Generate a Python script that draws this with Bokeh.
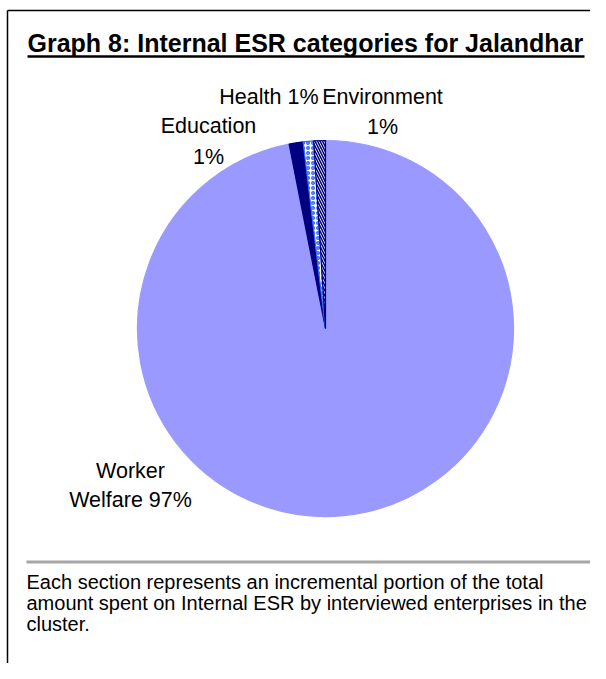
import math
from bokeh.plotting import figure
from bokeh.models import ColumnDataSource, Range1d
from bokeh.core.properties import value
from bokeh.embed import file_html
from bokeh.resources import INLINE

# ---- data ----
title_text = "Graph 8: Internal ESR categories for Jalandhar"
categories = ["Worker Welfare", "Education", "Health", "Environment"]
shares = [96.9, 1.2, 0.9, 1.0]
footer_lines = [
    "Each section represents an incremental portion of the total",
    "amount spent on Internal ESR by interviewed enterprises in the",
    "cluster.",
]

# ---- styles ----
fill_colors = ["#9999FF", "#000080", "#FFFFFF", "#FFFFFF"]
line_colors = ["#9999FF", "#000080", "#3366FF", "#000080"]
hatch_patterns = [" ", " ", "o", "\\"]
hatch_colors = ["#9999FF", "#000080", "#3366FF", "#000080"]

W, H = 590, 663
FONT = value("Liberation Sans")

p = figure(width=W, height=H, output_backend="svg", toolbar_location=None,
           x_range=Range1d(0, W), y_range=Range1d(0, H),
           x_axis_location=None, y_axis_location=None, min_border=0,
           outline_line_color=None, background_fill_color="white",
           border_fill_color="white")
p.grid.visible = False

def py(Y):
    # screen y (from top) -> data y
    return H - Y

def px(X):
    return X

# border (top and left edges of the frame box)
p.line([px(7), px(606)], [py(10), py(10)], line_color="black", line_width=1.5)
p.line([px(7), px(7)], [py(10), py(679)], line_color="black", line_width=1.5)

# title with underline
p.text(x=[px(27)], y=[py(42)], text=[title_text], text_font=FONT,
       text_font_style="bold", text_font_size="25px", text_baseline="middle",
       text_align="left", text_color="black")
p.line([px(27), px(584)], [py(56), py(56)], line_color="black", line_width=2.5)

# pie: clockwise from 12 o'clock
total = sum(shares)
starts, ends = [], []
c = 0.0
for s in shares:
    c0 = c / total
    c += s
    c1 = c / total
    starts.append(math.pi / 2 - 2 * math.pi * c1)
    ends.append(math.pi / 2 - 2 * math.pi * c0)

src = ColumnDataSource(dict(cat=categories, share=shares, start=starts, end=ends,
                            fill=fill_colors, line=line_colors,
                            hatch=hatch_patterns, hcol=hatch_colors))
cx, cy, r = px(325), py(328), 188
p.wedge(x=cx, y=cy, radius=r, start_angle="start", end_angle="end", source=src,
        fill_color="fill", line_color="line", line_width=1.2,
        hatch_pattern="hatch", hatch_color="hcol", hatch_scale=5, hatch_weight=1.5)

# labels
pct = {c_: f"{round(s_ / total * 100)}%" for c_, s_ in zip(categories, shares)}
lab_text = [
    f"Health {pct['Health']}",
    "Environment",
    pct["Environment"],
    "Education",
    pct["Education"],
    "Worker",
    f"Welfare {pct['Worker Welfare']}",
]
lab_x = [px(318), px(382), px(382), px(208), px(208), px(130), px(130)]
lab_y = [py(96), py(96), py(126), py(125), py(156), py(470), py(499)]
lab_align = ["right", "center", "center", "center", "center", "center", "center"]
p.text(x=lab_x, y=lab_y, text=lab_text, text_font=FONT, text_font_size="21.5px",
       text_baseline="middle", text_align=lab_align, text_color="black")

# separator
p.line([px(26), px(598)], [py(561.5), py(561.5)], line_color="#A6A6A6", line_width=3)

# footer
p.text(x=[px(26)] * 3, y=[py(581), py(602), py(623)], text=footer_lines,
       text_font=FONT, text_font_size="20px", text_baseline="middle",
       text_align="left", text_color="black")

open("out.html", "w").write(file_html(p, INLINE))
